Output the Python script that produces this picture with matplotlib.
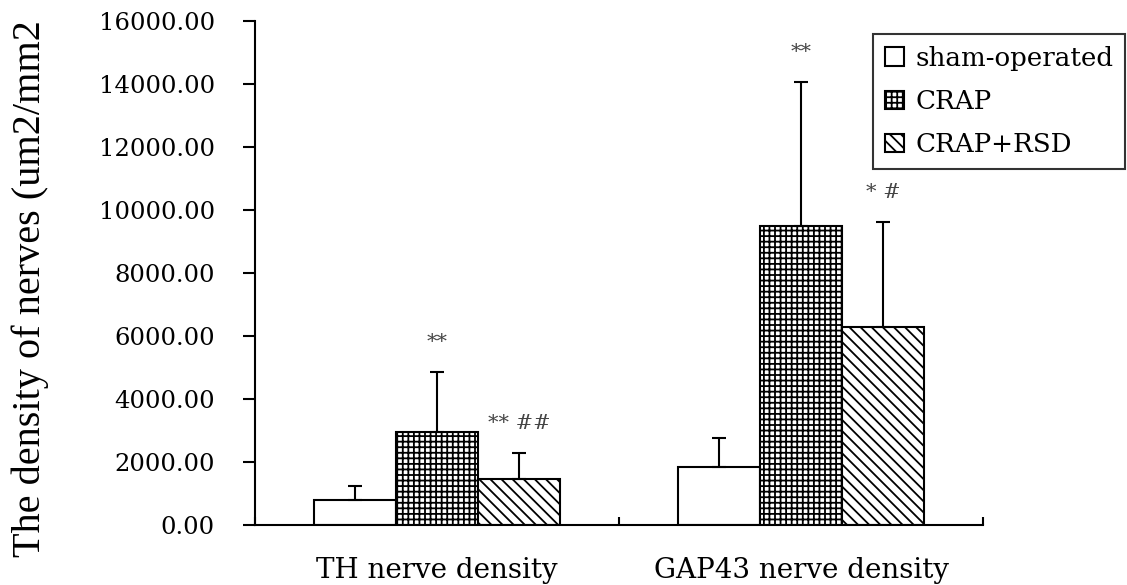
import numpy as np
import matplotlib
matplotlib.use("Agg")
import matplotlib.pyplot as plt

#---------------------------
# DATA
#---------------------------
CATEGORIES = ["TH nerve density", "GAP43 nerve density"]
GROUPS = ["sham-operated", "CRAP", "CRAP+RSD"]
SHAM_MEAN = [800, 1840]
SHAM_ERR = [430, 920]
CRAP_MEAN = [2950, 9490]
CRAP_ERR = [1900, 4570]
RSD_MEAN = [1460, 6290]
RSD_ERR = [820, 3330]
SHAM_MARK = ["", ""]
CRAP_MARK = ["**", "**"]
RSD_MARK = ["** ##", "* #"]
Y_TICKS = [0, 2000, 4000, 6000, 8000, 10000, 12000, 14000, 16000]
Y_LABEL = "The density of nerves (um2/mm2"

# styles
BAR_W = 0.225
LW = 1.5
plt.rcParams["hatch.linewidth"] = 1.3
plt.rcParams["font.family"] = ["DejaVu Serif"]

means = [SHAM_MEAN, CRAP_MEAN, RSD_MEAN]
errs = [SHAM_ERR, CRAP_ERR, RSD_ERR]
marks = [SHAM_MARK, CRAP_MARK, RSD_MARK]
hatches = ["", "+++", "\\\\\\"]
offsets = [-BAR_W, 0.0, BAR_W]

fig = plt.figure(figsize=(11.27, 5.85), dpi=100)
ax = fig.add_axes([255 / 1127, 1 - 525 / 585, (983 - 255) / 1127, (525 - 21) / 585])

x = np.arange(len(CATEGORIES))
for g in range(len(GROUPS)):
    xs = x + offsets[g]
    ax.bar(xs, means[g], width=BAR_W, color="white", edgecolor="black",
           linewidth=LW, hatch=hatches[g], label=GROUPS[g], zorder=2)
    ax.errorbar(xs, means[g], yerr=[np.zeros(len(x)), errs[g]], fmt="none",
                ecolor="black", elinewidth=LW, capsize=5, capthick=LW, zorder=3)
    for xi, m, e, t in zip(xs, means[g], errs[g], marks[g]):
        if t:
            ax.text(xi, m + e + 950, t, ha="center", va="center",
                    fontsize=15, color="#444444")

ax.set_xlim(-0.5, len(CATEGORIES) - 0.5)
ax.set_ylim(0, 16000)
ax.set_yticks(Y_TICKS)
ax.set_yticklabels([f"{v:.2f}" for v in Y_TICKS], fontsize=17.5)
ax.tick_params(axis="y", direction="out", length=9, width=LW, pad=20)

# category boundary ticks point up, labels sit at the centres
ax.set_xticks(np.arange(len(CATEGORIES) + 1) - 0.5)
ax.set_xticklabels([])
ax.tick_params(axis="x", which="major", direction="in", length=6, width=LW)
ax.set_xticks(x, minor=True)
ax.set_xticklabels(CATEGORIES, minor=True, fontsize=20)
ax.tick_params(axis="x", which="minor", length=0, pad=23)

ax.set_ylabel(Y_LABEL, family=["Liberation Serif"], fontsize=29)
ax.yaxis.set_label_coords(-0.283, 0.47)

for s in ["top", "right"]:
    ax.spines[s].set_visible(False)
for s in ["left", "bottom"]:
    ax.spines[s].set_linewidth(LW)

leg = ax.legend(loc="upper right", bbox_to_anchor=(1125 / 1127, 1 - 34 / 585),
                bbox_transform=fig.transFigure, fontsize=18.8, frameon=True,
                fancybox=False, edgecolor="black", handlelength=0.7,
                handleheight=0.7, handletextpad=0.45, labelspacing=0.7,
                borderpad=0.45, borderaxespad=0)
leg.get_frame().set_linewidth(LW)

fig.savefig("out.png", dpi=100)
